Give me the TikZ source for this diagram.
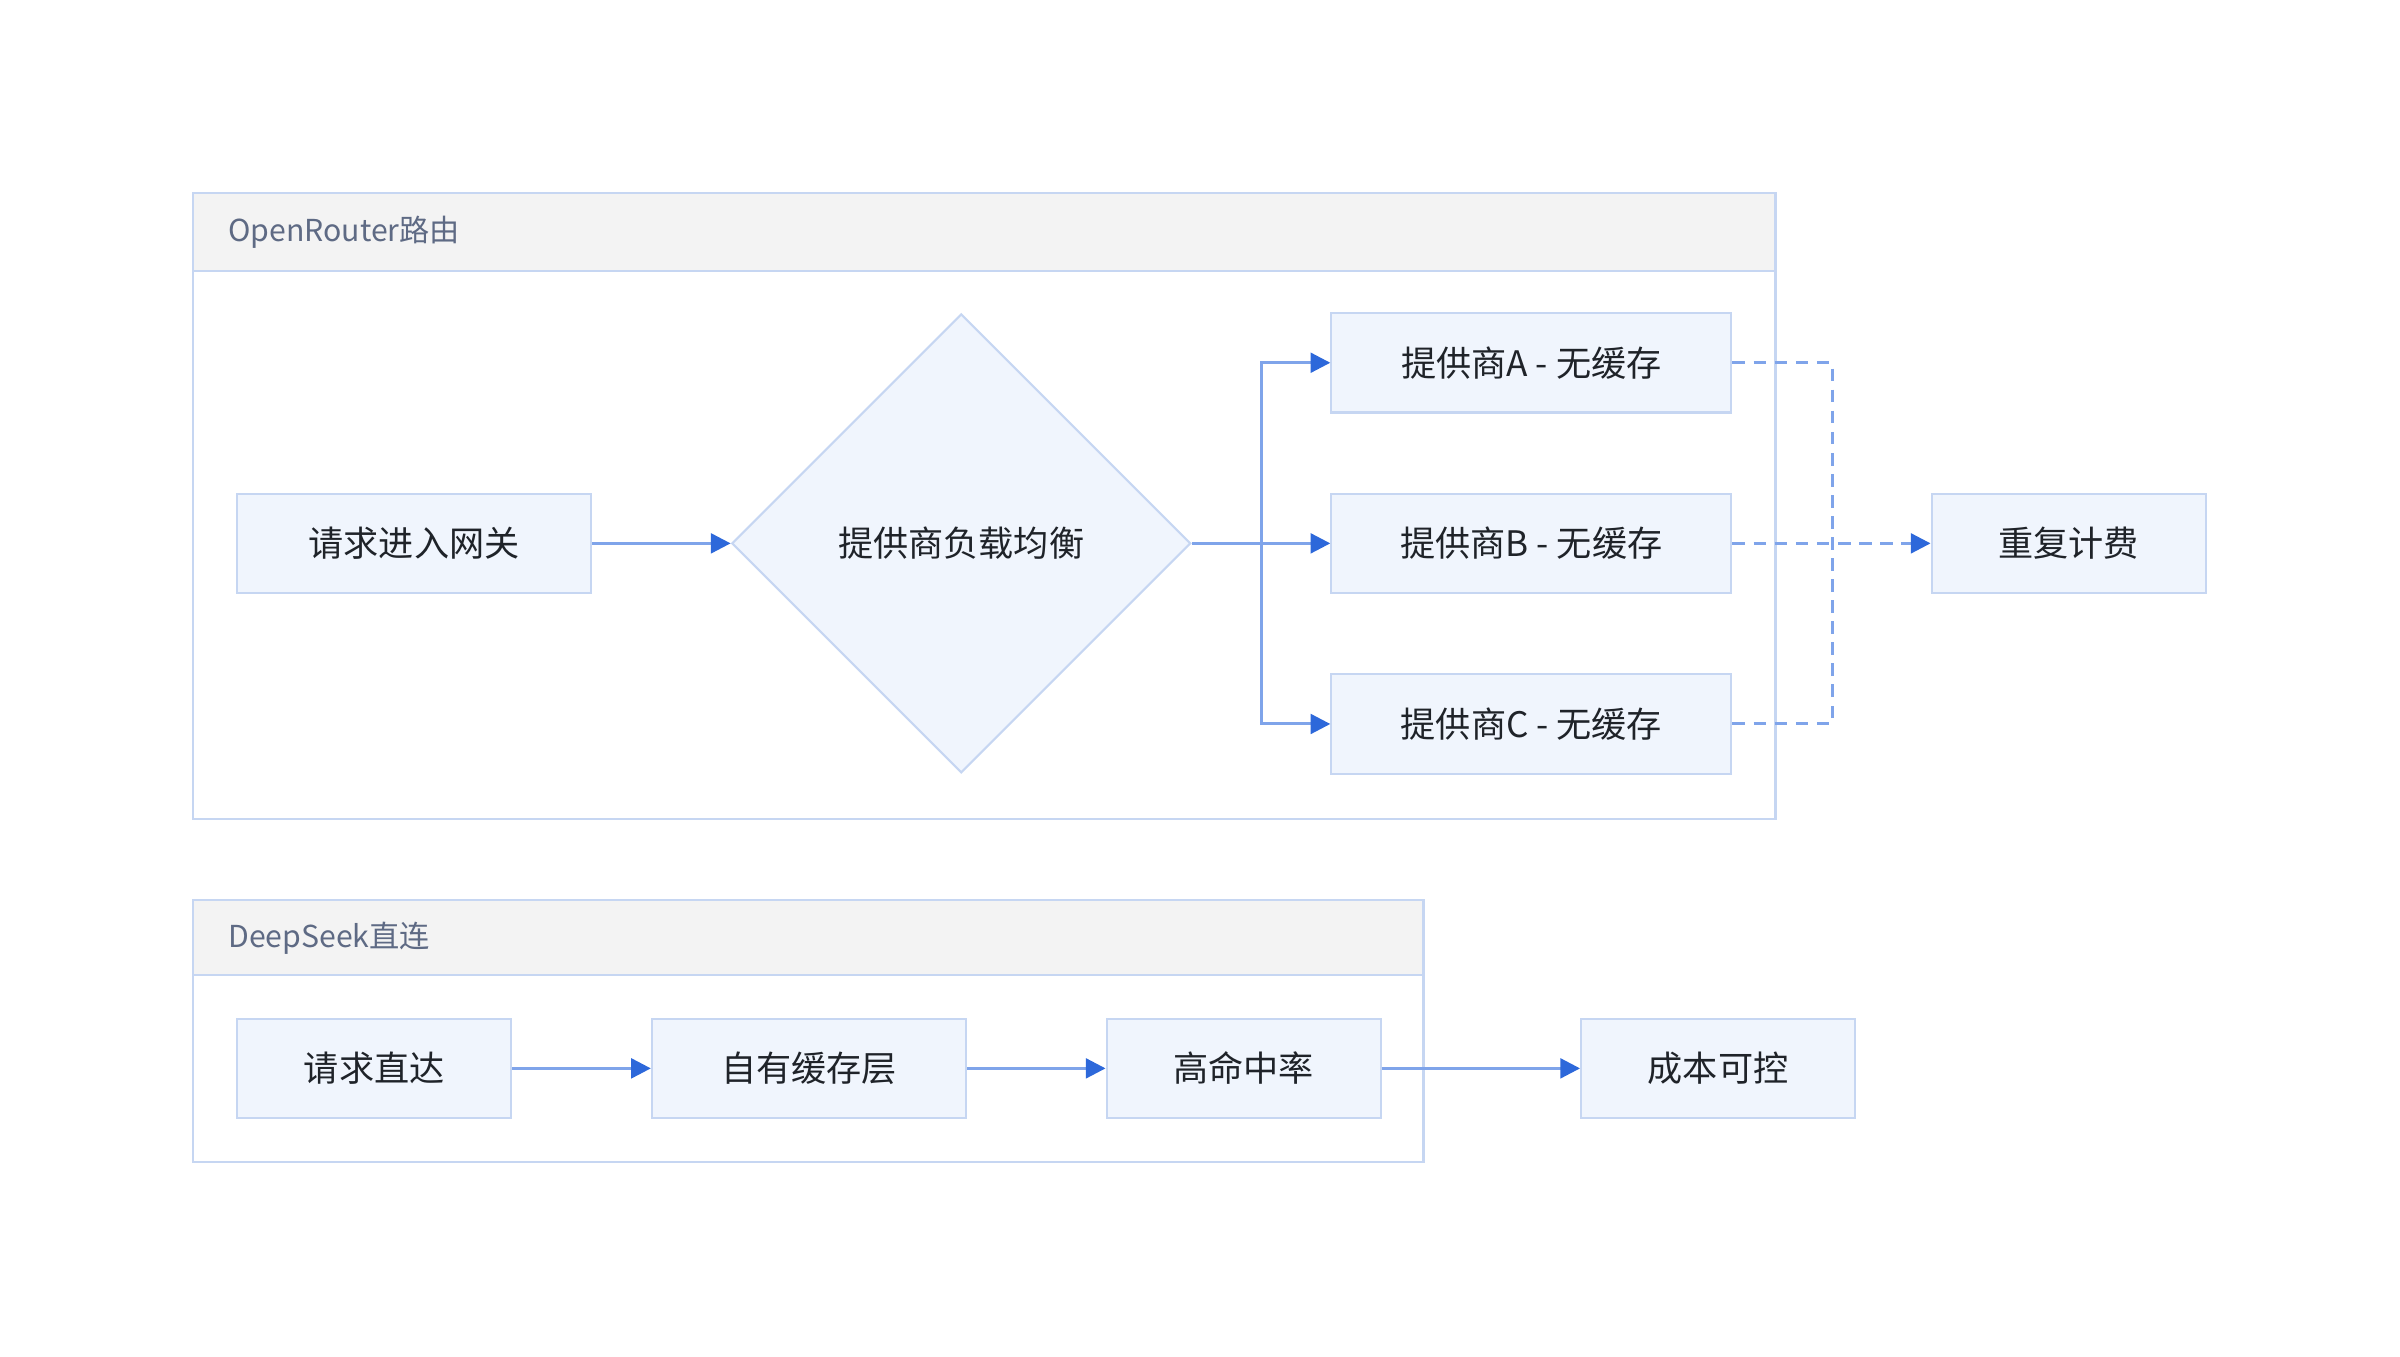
\documentclass[tikz,border=0pt]{standalone}
\usepackage{fontspec}
\setmainfont{Noto Sans CJK SC}
\usetikzlibrary{shapes.geometric,arrows.meta}
\definecolor{boxfill}{HTML}{F0F5FD}
\definecolor{boxline}{HTML}{C6D6F2}
\definecolor{headfill}{HTML}{F3F3F3}
\definecolor{linkblue}{HTML}{7FA4EA}
\definecolor{tipblue}{HTML}{2D68DA}
\definecolor{titlegray}{HTML}{5E6A84}
\definecolor{textdark}{HTML}{1F2329}
\begin{document}
\begin{tikzpicture}[x=0.01531cm,y=-0.01531cm,
    box/.style={draw=boxline,fill=boxfill,line width=0.6pt,minimum height=0.995cm,
      text=textdark,font=\fontsize{10}{12}\selectfont},
    frame/.style={draw=boxline,line width=0.6pt},
    head/.style={anchor=west,text=titlegray,font=\fontsize{8.6}{10}\selectfont},
    link/.style={draw=linkblue,line width=0.85pt,-{Triangle[length=5.6pt,width=5.6pt,fill=tipblue,color=tipblue]}},
    dlink/.style={draw=linkblue,line width=0.85pt,dash pattern=on 3.6pt off 2.4pt}]
    \useasboundingbox (0,0) rectangle (1568,886);
    % frames
    \draw[frame] (126,126) rectangle (1160,535);
    \draw[frame,fill=headfill] (126,126) rectangle (1160,177);
    \node[head] (ortitle) at (141,152) {OpenRouter路由};
    \draw[frame] (126,588) rectangle (930,759);
    \draw[frame,fill=headfill] (126,588) rectangle (930,637);
    \node[head] (dstitle) at (141,613) {DeepSeek直连};
    % OpenRouter
    \node[box,minimum width=3.54cm] (gate) at (270.5,355) {请求进入网关};
    \node[box,diamond,aspect=1,inner sep=0pt,minimum width=4.59cm,minimum height=4.59cm] (lb) at (628,355) {提供商负载均衡};
    \node[box,minimum width=4.0cm] (pa) at (1000.5,237) {提供商A - 无缓存};
    \node[box,minimum width=4.0cm] (pb) at (1000.5,355) {提供商B - 无缓存};
    \node[box,minimum width=4.0cm] (pc) at (1000.5,473) {提供商C - 无缓存};
    \node[box,minimum width=2.74cm] (bill) at (1351.5,355) {重复计费};
    \coordinate (split) at (824,355);
    \coordinate (merge) at (1197,355);
    \draw[link] (gate) -- (lb);
    \draw[link] (lb.east) -- (split) |- (pa.west);
    \draw[link] (split) -- (pb.west);
    \draw[link] (split) |- (pc.west);
    \draw[dlink] (pa.east) -| (merge);
    \draw[dlink] (pc.east) -| (merge);
    \draw[dlink,-{Triangle[length=5.6pt,width=5.6pt,fill=tipblue,color=tipblue]}] (pb.east) -- (bill.west);
    % DeepSeek
    \node[box,minimum width=2.74cm] (direct) at (244.5,698) {请求直达};
    \node[box,minimum width=3.14cm] (cache) at (528.5,698) {自有缓存层};
    \node[box,minimum width=2.74cm] (hit) at (812.5,698) {高命中率};
    \node[box,minimum width=2.74cm] (cost) at (1122.5,698) {成本可控};
    \draw[link] (direct) -- (cache);
    \draw[link] (cache) -- (hit);
    \draw[link] (hit) -- (cost);
\end{tikzpicture}
\end{document}
